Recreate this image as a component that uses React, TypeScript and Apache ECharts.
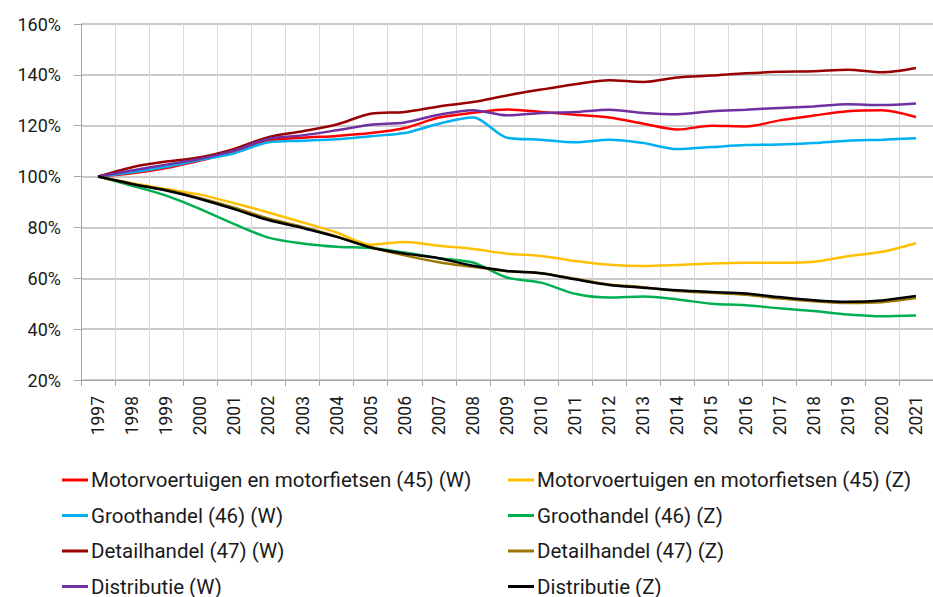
import React, { useEffect, useRef } from "react";
import * as echarts from "echarts";

const years = ["1997","1998","1999","2000","2001","2002","2003","2004","2005","2006","2007","2008","2009","2010","2011","2012","2013","2014","2015","2016","2017","2018","2019","2020","2021"];

const motorW = [100, 101.3, 103.4, 106.3, 109.6, 114.2, 115.3, 116.0, 117.1, 119.1, 123.2, 125.1, 126.4, 125.4, 124.3, 123.2, 120.8, 118.5, 120.0, 119.7, 122.1, 124.0, 125.7, 126.1, 123.4];
const motorZ = [100, 97.4, 95.1, 92.9, 89.5, 85.9, 82.0, 78.0, 73.2, 74.3, 72.8, 71.5, 69.7, 68.8, 66.8, 65.3, 64.8, 65.2, 65.8, 66.1, 66.1, 66.5, 68.7, 70.4, 73.8];
const grootW = [100, 101.7, 103.9, 106.6, 109.2, 113.5, 114.1, 114.7, 115.9, 117.1, 120.8, 123.2, 115.3, 114.5, 113.5, 114.5, 113.2, 110.8, 111.6, 112.4, 112.6, 113.2, 114.1, 114.5, 115.1];
const grootZ = [100, 96.4, 92.5, 87.2, 81.3, 76.0, 73.7, 72.4, 71.9, 70.1, 67.9, 66.2, 60.3, 58.3, 53.9, 52.4, 52.8, 51.7, 50.0, 49.4, 48.2, 47.1, 45.8, 45.1, 45.4];
const detailW = [100, 103.7, 105.9, 107.6, 110.9, 115.5, 117.8, 120.5, 124.7, 125.4, 127.6, 129.3, 131.9, 134.2, 136.3, 137.9, 137.2, 139.0, 139.7, 140.6, 141.2, 141.4, 142.0, 141.0, 142.7];
const detailZ = [100, 97.0, 94.8, 91.5, 87.8, 83.5, 80.2, 76.5, 72.3, 69.0, 66.3, 64.5, 62.8, 62.0, 59.8, 57.6, 56.5, 55.0, 54.3, 53.5, 52.0, 51.0, 50.3, 50.6, 52.2];
const distW = [100, 102.4, 104.7, 107.0, 110.3, 114.9, 116.2, 118.2, 120.4, 121.3, 124.3, 126.1, 124.1, 125.0, 125.4, 126.3, 125.0, 124.5, 125.7, 126.3, 127.0, 127.6, 128.4, 128.1, 128.7];
const distZ = [100, 97.1, 94.5, 91.2, 87.2, 82.9, 79.8, 76.3, 72.1, 69.7, 67.9, 64.9, 62.9, 62.0, 59.6, 57.4, 56.3, 55.3, 54.6, 54.0, 52.6, 51.4, 50.8, 51.3, 53.0];

const seriesDefs = [
  { name: "Motorvoertuigen en motorfietsen (45) (W)", data: motorW, color: "#FF0000" },
  { name: "Motorvoertuigen en motorfietsen (45) (Z)", data: motorZ, color: "#FFC000" },
  { name: "Groothandel (46) (W)", data: grootW, color: "#00B0F0" },
  { name: "Groothandel (46) (Z)", data: grootZ, color: "#00B050" },
  { name: "Detailhandel (47) (W)", data: detailW, color: "#990000" },
  { name: "Detailhandel (47) (Z)", data: detailZ, color: "#9C7700" },
  { name: "Distributie (W)", data: distW, color: "#7030A0" },
  { name: "Distributie (Z)", data: distZ, color: "#000000" },
];

const FONT = "Roboto";

export default function App() {
  const ref = useRef<HTMLDivElement>(null);
  useEffect(() => {
    document.body.style.margin = "0";
    const chart = echarts.init(ref.current!, null, { renderer: "svg" });
    const legendBase = {
      orient: "vertical",
      top: 469,
      height: 200,
      icon: "rect",
      itemWidth: 26,
      itemHeight: 3,
      itemGap: 13.5,
      padding: 0,
      textStyle: { fontFamily: FONT, fontSize: 20.5, color: "#1a1a1a", lineHeight: 22, padding: [0, 0, 0, -2] },
    };
    chart.setOption({
      animation: false,
      backgroundColor: "#fff",
      grid: { left: 81, right: -5, top: 24, bottom: 217, containLabel: false },
      legend: [
        { ...legendBase, left: 62, data: seriesDefs.filter((_, i) => i % 2 === 0).map((s) => s.name) },
        { ...legendBase, left: 508, data: seriesDefs.filter((_, i) => i % 2 === 1).map((s) => s.name) },
      ],
      xAxis: {
        type: "category",
        data: years,
        boundaryGap: true,
        axisLine: { show: true, lineStyle: { color: "#A6A6A6", width: 1 } },
        axisTick: { show: true, interval: 0, length: 6, lineStyle: { color: "#A6A6A6" } },
        axisLabel: { rotate: 90, interval: 0, margin: 16, fontFamily: FONT, fontSize: 17.5, color: "#1a1a1a" },
        splitLine: { show: true, interval: 0, lineStyle: { color: "#D9D9D9", width: 1 } },
      },
      yAxis: {
        type: "value",
        min: 20,
        max: 160,
        interval: 20,
        axisLine: { show: true, lineStyle: { color: "#A6A6A6" } },
        axisTick: { show: true, length: 7, lineStyle: { color: "#A6A6A6" } },
        axisLabel: { formatter: "{value}%", margin: 20, fontFamily: FONT, fontSize: 18, color: "#1a1a1a" },
        splitLine: { show: true, lineStyle: { color: "#B8B8B8", width: 1.5 } },
      },
      series: seriesDefs.map((s) => ({
        name: s.name,
        type: "line",
        data: s.data,
        smooth: 0.3,
        showSymbol: false,
        symbol: "none",
        color: s.color,
        lineStyle: { color: s.color, width: 2.5 },
        emphasis: { disabled: true },
      })),
    });
    return () => chart.dispose();
  }, []);
  return <div ref={ref} style={{ width: 933, height: 597 }} />;
}
